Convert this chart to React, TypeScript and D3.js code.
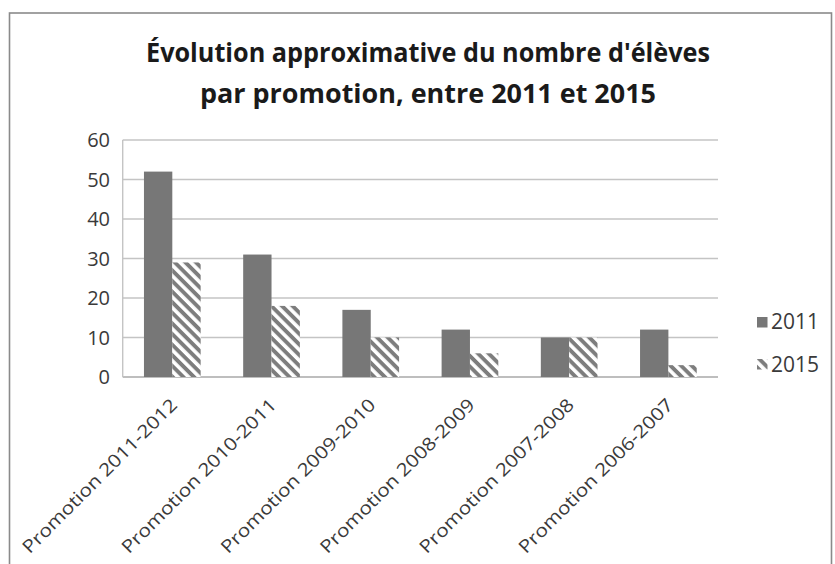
import React from "react";
import * as d3 from "d3";

const categories = [
  "Promotion 2011-2012",
  "Promotion 2010-2011",
  "Promotion 2009-2010",
  "Promotion 2008-2009",
  "Promotion 2007-2008",
  "Promotion 2006-2007",
];
const series2011 = [52, 31, 17, 12, 10, 12];
const series2015 = [29, 18, 10, 6, 10, 3];
const seriesNames = ["2011", "2015"];
const yTicks = [0, 10, 20, 30, 40, 50, 60];
const titleLines = [
  "Évolution approximative du nombre d'élèves",
  "par promotion, entre 2011 et 2015",
];

const W = 835;
const H = 564;
const plot = { left: 122.7, right: 718, top: 140, bottom: 377 };
const FONT = "'Open Sans', 'Liberation Sans', sans-serif";
const BAR = "#777777";
const HATCH = "#7d7d7d";
const TEXT = "#3a3a3a";

export default function App() {
  const x = d3
    .scaleBand<string>()
    .domain(categories)
    .range([plot.left, plot.right])
    .paddingInner(0)
    .paddingOuter(0);
  const bw = x.bandwidth();
  const barW = bw / 3.5;
  const y = d3.scaleLinear().domain([0, 60]).range([plot.bottom, plot.top]);

  return (
    <svg
      width={W}
      height={H}
      style={{ position: "absolute", left: 0, top: 0, background: "#fff" }}
    >
      <defs>
        <pattern
          id="hatch"
          patternUnits="userSpaceOnUse"
          width={7.5}
          height={7.5}
          patternTransform="rotate(45)"
        >
          <rect x={0} y={0} width={7.5} height={7.5} fill="#fff" />
          <rect x={0} y={0} width={7.5} height={3.9} fill={HATCH} />
        </pattern>
      </defs>
      <rect x={0} y={0} width={W} height={H} fill="#fff" />
      {/* frame */}
      <rect
        x={9.5}
        y={13}
        width={822}
        height={H + 20}
        fill="#fff"
        stroke="#8a8a8a"
        strokeWidth={1.6}
      />
      {/* title */}
      {titleLines.map((t, i) => (
        <text
          key={i}
          x={428}
          y={62 + i * 41}
          textAnchor="middle"
          fontFamily={FONT}
          fontWeight={700}
          fontSize={27}
          fill="#1a1a1a"
          textLength={i === 0 ? 564 : 456}
          lengthAdjust="spacingAndGlyphs"
        >
          {t}
        </text>
      ))}
      {/* gridlines */}
      {yTicks.map((t) => (
        <line
          key={t}
          x1={plot.left}
          x2={plot.right}
          y1={y(t)}
          y2={y(t)}
          stroke={t === 0 ? "#a8a8a8" : "#c4c4c4"}
          strokeWidth={1.6}
        />
      ))}
      <line
        x1={plot.left}
        x2={plot.left}
        y1={plot.top}
        y2={plot.bottom}
        stroke="#c4c4c4"
        strokeWidth={1.4}
      />
      {/* y labels */}
      {yTicks.map((t) => (
        <text
          key={t}
          x={110}
          y={y(t)}
          dy="0.36em"
          textAnchor="end"
          fontFamily={FONT}
          fontSize={20}
          fill={TEXT}
        >
          {t}
        </text>
      ))}
      {/* bars */}
      {categories.map((c, i) => {
        const cx = (x(c) as number) + bw / 2;
        return (
          <g key={c}>
            <rect
              x={cx - barW}
              y={y(series2011[i])}
              width={barW}
              height={y(0) - y(series2011[i])}
              fill={BAR}
            />
            <rect
              x={cx}
              y={y(series2015[i])}
              width={barW}
              height={y(0) - y(series2015[i])}
              fill="url(#hatch)"
            />
          </g>
        );
      })}
      {/* x labels */}
      {categories.map((c) => {
        const cx = (x(c) as number) + bw / 2;
        return (
          <text
            key={c}
            transform={`translate(${cx + 6},${plot.bottom + 29}) rotate(-45)`}
            textAnchor="end"
            fontFamily={FONT}
            fontSize={18}
            fill={TEXT}
            textLength={210}
            lengthAdjust="spacingAndGlyphs"
          >
            {c}
          </text>
        );
      })}
      {/* legend */}
      <rect x={757} y={317} width={10.5} height={10.5} fill={BAR} />
      <text x={771} y={329} fontFamily={FONT} fontSize={21} fill={TEXT}>
        {seriesNames[0]}
      </text>
      <rect x={757} y={359} width={10.5} height={10.5} fill="url(#hatch)" />
      <text x={771} y={372} fontFamily={FONT} fontSize={21} fill={TEXT}>
        {seriesNames[1]}
      </text>
    </svg>
  );
}
